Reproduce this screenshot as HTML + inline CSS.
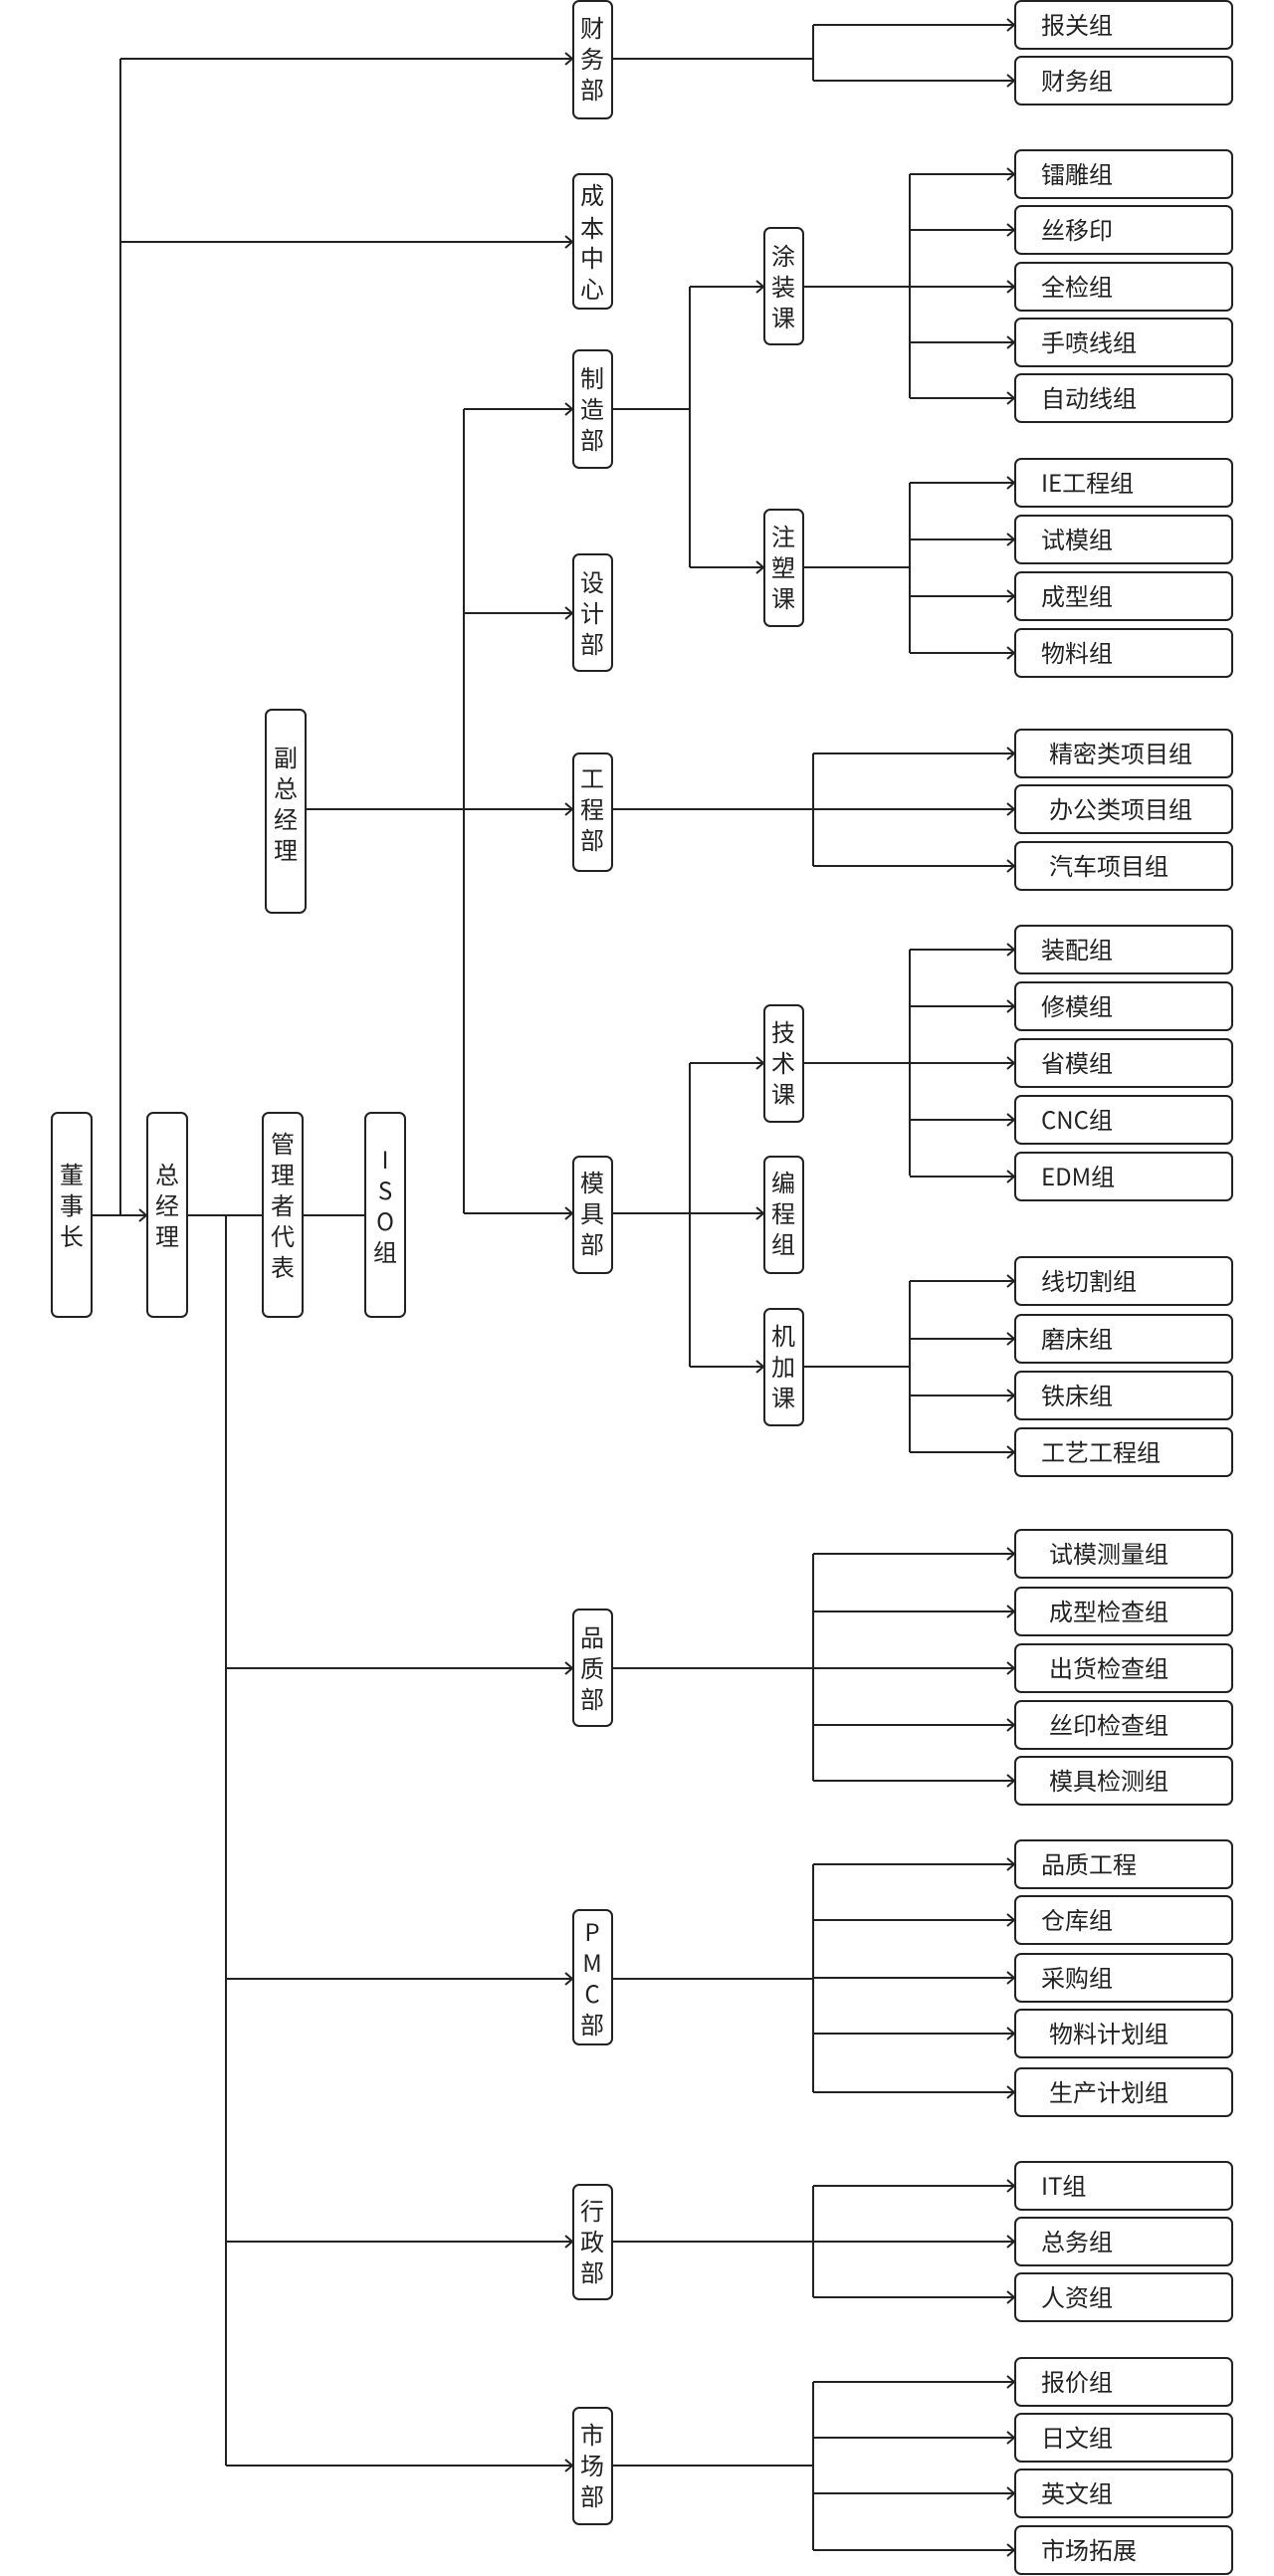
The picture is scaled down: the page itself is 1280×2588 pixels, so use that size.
<!DOCTYPE html>
<html><head><meta charset="utf-8"><style>
html,body{margin:0;padding:0;background:#fff;}
svg{display:block;}
text{font-family:"Noto Sans CJK SC","Liberation Sans",sans-serif;font-size:24px;fill:#222;}
</style></head><body>
<svg width="1280" height="2588" viewBox="0 0 1280 2588" xmlns="http://www.w3.org/2000/svg">
<defs><marker id="a" markerWidth="12" markerHeight="14" refX="10" refY="7" orient="auto" markerUnits="userSpaceOnUse"><path d="M3,1 L10,7 L3,13" fill="none" stroke="#222" stroke-width="2"/></marker></defs>
<g stroke="#222" stroke-width="2" fill="none">
<path d="M121,59 V1221"/>
<line x1="121" y1="59" x2="575" y2="59" marker-end="url(#a)"/>
<line x1="121" y1="243" x2="575" y2="243" marker-end="url(#a)"/>
<line x1="92" y1="1221" x2="147" y2="1221" marker-end="url(#a)"/>
<path d="M188,1221 H264 M304,1221 H367"/>
<path d="M227,1221 V2477"/>
<line x1="227" y1="1676" x2="575" y2="1676" marker-end="url(#a)"/>
<line x1="227" y1="1988" x2="575" y2="1988" marker-end="url(#a)"/>
<line x1="227" y1="2252" x2="575" y2="2252" marker-end="url(#a)"/>
<line x1="227" y1="2477" x2="575" y2="2477" marker-end="url(#a)"/>
<line x1="307" y1="813" x2="575" y2="813" marker-end="url(#a)"/>
<path d="M466,411 V1219"/>
<line x1="466" y1="411" x2="575" y2="411" marker-end="url(#a)"/>
<line x1="466" y1="616" x2="575" y2="616" marker-end="url(#a)"/>
<line x1="466" y1="1219" x2="575" y2="1219" marker-end="url(#a)"/>
<path d="M615,59 H817 M817,25 V81"/>
<line x1="817" y1="25" x2="1019" y2="25" marker-end="url(#a)"/>
<line x1="817" y1="81" x2="1019" y2="81" marker-end="url(#a)"/>
<path d="M615,411 H693 M693,288 V570"/>
<line x1="693" y1="288" x2="767" y2="288" marker-end="url(#a)"/>
<line x1="693" y1="570" x2="767" y2="570" marker-end="url(#a)"/>
<path d="M807,288 H914 M914,175 V400"/>
<line x1="914" y1="175" x2="1019" y2="175" marker-end="url(#a)"/>
<line x1="914" y1="231" x2="1019" y2="231" marker-end="url(#a)"/>
<line x1="914" y1="288" x2="1019" y2="288" marker-end="url(#a)"/>
<line x1="914" y1="344" x2="1019" y2="344" marker-end="url(#a)"/>
<line x1="914" y1="400" x2="1019" y2="400" marker-end="url(#a)"/>
<path d="M807,570 H914 M914,485 V656"/>
<line x1="914" y1="485" x2="1019" y2="485" marker-end="url(#a)"/>
<line x1="914" y1="542" x2="1019" y2="542" marker-end="url(#a)"/>
<line x1="914" y1="599" x2="1019" y2="599" marker-end="url(#a)"/>
<line x1="914" y1="656" x2="1019" y2="656" marker-end="url(#a)"/>
<path d="M615,813 H817 M817,757 V870"/>
<line x1="817" y1="757" x2="1019" y2="757" marker-end="url(#a)"/>
<line x1="817" y1="813" x2="1019" y2="813" marker-end="url(#a)"/>
<line x1="817" y1="870" x2="1019" y2="870" marker-end="url(#a)"/>
<path d="M615,1219 H693 M693,1068 V1373"/>
<line x1="693" y1="1068" x2="767" y2="1068" marker-end="url(#a)"/>
<line x1="693" y1="1219" x2="767" y2="1219" marker-end="url(#a)"/>
<line x1="693" y1="1373" x2="767" y2="1373" marker-end="url(#a)"/>
<path d="M807,1068 H914 M914,954 V1181"/>
<line x1="914" y1="954" x2="1019" y2="954" marker-end="url(#a)"/>
<line x1="914" y1="1011" x2="1019" y2="1011" marker-end="url(#a)"/>
<line x1="914" y1="1068" x2="1019" y2="1068" marker-end="url(#a)"/>
<line x1="914" y1="1125" x2="1019" y2="1125" marker-end="url(#a)"/>
<line x1="914" y1="1182" x2="1019" y2="1182" marker-end="url(#a)"/>
<path d="M807,1373 H914 M914,1287 V1459"/>
<line x1="914" y1="1287" x2="1019" y2="1287" marker-end="url(#a)"/>
<line x1="914" y1="1345" x2="1019" y2="1345" marker-end="url(#a)"/>
<line x1="914" y1="1402" x2="1019" y2="1402" marker-end="url(#a)"/>
<line x1="914" y1="1459" x2="1019" y2="1459" marker-end="url(#a)"/>
<path d="M615,1676 H817 M817,1561 V1789"/>
<line x1="817" y1="1561" x2="1019" y2="1561" marker-end="url(#a)"/>
<line x1="817" y1="1619" x2="1019" y2="1619" marker-end="url(#a)"/>
<line x1="817" y1="1676" x2="1019" y2="1676" marker-end="url(#a)"/>
<line x1="817" y1="1733" x2="1019" y2="1733" marker-end="url(#a)"/>
<line x1="817" y1="1789" x2="1019" y2="1789" marker-end="url(#a)"/>
<path d="M615,1988 H817 M817,1873 V2102"/>
<line x1="817" y1="1873" x2="1019" y2="1873" marker-end="url(#a)"/>
<line x1="817" y1="1929" x2="1019" y2="1929" marker-end="url(#a)"/>
<line x1="817" y1="1987" x2="1019" y2="1987" marker-end="url(#a)"/>
<line x1="817" y1="2043" x2="1019" y2="2043" marker-end="url(#a)"/>
<line x1="817" y1="2102" x2="1019" y2="2102" marker-end="url(#a)"/>
<path d="M615,2252 H817 M817,2196 V2308"/>
<line x1="817" y1="2196" x2="1019" y2="2196" marker-end="url(#a)"/>
<line x1="817" y1="2252" x2="1019" y2="2252" marker-end="url(#a)"/>
<line x1="817" y1="2308" x2="1019" y2="2308" marker-end="url(#a)"/>
<path d="M615,2477 H817 M817,2393 V2562"/>
<line x1="817" y1="2393" x2="1019" y2="2393" marker-end="url(#a)"/>
<line x1="817" y1="2449" x2="1019" y2="2449" marker-end="url(#a)"/>
<line x1="817" y1="2505" x2="1019" y2="2505" marker-end="url(#a)"/>
<line x1="817" y1="2562" x2="1019" y2="2562" marker-end="url(#a)"/>

<g fill="#fff">
<rect x="52" y="1118" width="40" height="205" rx="6"/>
<rect x="148" y="1118" width="40" height="205" rx="6"/>
<rect x="264" y="1118" width="40" height="205" rx="6"/>
<rect x="367" y="1118" width="40" height="205" rx="6"/>
<rect x="267" y="713" width="40" height="204" rx="6"/>
<rect x="576" y="1" width="39" height="118" rx="6"/>
<rect x="576" y="175" width="39" height="135" rx="6"/>
<rect x="576" y="352" width="39" height="118" rx="6"/>
<rect x="576" y="557" width="39" height="117" rx="6"/>
<rect x="576" y="757" width="39" height="118" rx="6"/>
<rect x="576" y="1162" width="39" height="117" rx="6"/>
<rect x="576" y="1617" width="39" height="117" rx="6"/>
<rect x="576" y="1919" width="39" height="135" rx="6"/>
<rect x="576" y="2195" width="39" height="115" rx="6"/>
<rect x="576" y="2419" width="39" height="117" rx="6"/>
<rect x="768" y="229" width="39" height="117" rx="6"/>
<rect x="768" y="512" width="39" height="117" rx="6"/>
<rect x="768" y="1010" width="39" height="117" rx="6"/>
<rect x="768" y="1162" width="39" height="117" rx="6"/>
<rect x="768" y="1315" width="39" height="117" rx="6"/>
</g>
<g fill="#fff">
<rect x="1020" y="1" width="218" height="48" rx="6"/>
<rect x="1020" y="57" width="218" height="48" rx="6"/>
<rect x="1020" y="151" width="218" height="48" rx="6"/>
<rect x="1020" y="207" width="218" height="48" rx="6"/>
<rect x="1020" y="264" width="218" height="48" rx="6"/>
<rect x="1020" y="320" width="218" height="48" rx="6"/>
<rect x="1020" y="376" width="218" height="48" rx="6"/>
<rect x="1020" y="461" width="218" height="48" rx="6"/>
<rect x="1020" y="518" width="218" height="48" rx="6"/>
<rect x="1020" y="575" width="218" height="48" rx="6"/>
<rect x="1020" y="632" width="218" height="48" rx="6"/>
<rect x="1020" y="733" width="218" height="48" rx="6"/>
<rect x="1020" y="789" width="218" height="48" rx="6"/>
<rect x="1020" y="846" width="218" height="48" rx="6"/>
<rect x="1020" y="930" width="218" height="48" rx="6"/>
<rect x="1020" y="987" width="218" height="48" rx="6"/>
<rect x="1020" y="1044" width="218" height="48" rx="6"/>
<rect x="1020" y="1101" width="218" height="48" rx="6"/>
<rect x="1020" y="1158" width="218" height="48" rx="6"/>
<rect x="1020" y="1263" width="218" height="48" rx="6"/>
<rect x="1020" y="1321" width="218" height="48" rx="6"/>
<rect x="1020" y="1378" width="218" height="48" rx="6"/>
<rect x="1020" y="1435" width="218" height="48" rx="6"/>
<rect x="1020" y="1537" width="218" height="48" rx="6"/>
<rect x="1020" y="1595" width="218" height="48" rx="6"/>
<rect x="1020" y="1652" width="218" height="48" rx="6"/>
<rect x="1020" y="1709" width="218" height="48" rx="6"/>
<rect x="1020" y="1765" width="218" height="48" rx="6"/>
<rect x="1020" y="1849" width="218" height="48" rx="6"/>
<rect x="1020" y="1905" width="218" height="48" rx="6"/>
<rect x="1020" y="1963" width="218" height="48" rx="6"/>
<rect x="1020" y="2019" width="218" height="48" rx="6"/>
<rect x="1020" y="2078" width="218" height="48" rx="6"/>
<rect x="1020" y="2172" width="218" height="48" rx="6"/>
<rect x="1020" y="2228" width="218" height="48" rx="6"/>
<rect x="1020" y="2284" width="218" height="48" rx="6"/>
<rect x="1020" y="2369" width="218" height="48" rx="6"/>
<rect x="1020" y="2425" width="218" height="48" rx="6"/>
<rect x="1020" y="2481" width="218" height="48" rx="6"/>
<rect x="1020" y="2538" width="218" height="48" rx="6"/>
</g>
</g>

<g text-anchor="middle">
<text x="72" y="1189">董</text><text x="72" y="1220">事</text><text x="72" y="1251">长</text>
<text x="168" y="1189">总</text><text x="168" y="1220">经</text><text x="168" y="1251">理</text>
<text x="284" y="1158">管</text><text x="284" y="1189">理</text><text x="284" y="1220">者</text><text x="284" y="1251">代</text><text x="284" y="1282">表</text>
<text x="387" y="1174">I</text><text x="387" y="1205">S</text><text x="387" y="1236">O</text><text x="387" y="1267">组</text>
<text x="287" y="770">副</text><text x="287" y="801">总</text><text x="287" y="832">经</text><text x="287" y="863">理</text>
<text x="595" y="37">财</text><text x="595" y="68">务</text><text x="595" y="99">部</text>
<text x="595" y="205">成</text><text x="595" y="238">本</text><text x="595" y="268">中</text><text x="595" y="299">心</text>
<text x="595" y="389">制</text><text x="595" y="420">造</text><text x="595" y="451">部</text>
<text x="595" y="594">设</text><text x="595" y="625">计</text><text x="595" y="656">部</text>
<text x="595" y="791">工</text><text x="595" y="822">程</text><text x="595" y="853">部</text>
<text x="595" y="1197">模</text><text x="595" y="1228">具</text><text x="595" y="1259">部</text>
<text x="595" y="1654">品</text><text x="595" y="1685">质</text><text x="595" y="1716">部</text>
<text x="595" y="1950">P</text><text x="595" y="1981">M</text><text x="595" y="2012">C</text><text x="595" y="2043">部</text>
<text x="595" y="2230">行</text><text x="595" y="2261">政</text><text x="595" y="2292">部</text>
<text x="595" y="2455">市</text><text x="595" y="2486">场</text><text x="595" y="2517">部</text>
<text x="787" y="266">涂</text><text x="787" y="297">装</text><text x="787" y="328">课</text>
<text x="787" y="548">注</text><text x="787" y="579">塑</text><text x="787" y="610">课</text>
<text x="787" y="1046">技</text><text x="787" y="1077">术</text><text x="787" y="1108">课</text>
<text x="787" y="1197">编</text><text x="787" y="1228">程</text><text x="787" y="1259">组</text>
<text x="787" y="1351">机</text><text x="787" y="1382">加</text><text x="787" y="1413">课</text>
</g>
<g>
<text x="1046" y="34">报关组</text>
<text x="1046" y="90">财务组</text>
<text x="1046" y="184">镭雕组</text>
<text x="1046" y="240">丝移印</text>
<text x="1046" y="297">全检组</text>
<text x="1046" y="353">手喷线组</text>
<text x="1046" y="409">自动线组</text>
<text x="1046" y="494">IE工程组</text>
<text x="1046" y="551">试模组</text>
<text x="1046" y="608">成型组</text>
<text x="1046" y="665">物料组</text>
<text x="1054" y="766">精密类项目组</text>
<text x="1054" y="822">办公类项目组</text>
<text x="1054" y="879">汽车项目组</text>
<text x="1046" y="963">装配组</text>
<text x="1046" y="1020">修模组</text>
<text x="1046" y="1077">省模组</text>
<text x="1046" y="1134">CNC组</text>
<text x="1046" y="1191">EDM组</text>
<text x="1046" y="1296">线切割组</text>
<text x="1046" y="1354">磨床组</text>
<text x="1046" y="1411">铁床组</text>
<text x="1046" y="1468">工艺工程组</text>
<text x="1054" y="1570">试模测量组</text>
<text x="1054" y="1628">成型检查组</text>
<text x="1054" y="1685">出货检查组</text>
<text x="1054" y="1742">丝印检查组</text>
<text x="1054" y="1798">模具检测组</text>
<text x="1046" y="1882">品质工程</text>
<text x="1046" y="1938">仓库组</text>
<text x="1046" y="1996">采购组</text>
<text x="1054" y="2052">物料计划组</text>
<text x="1054" y="2111">生产计划组</text>
<text x="1046" y="2205">IT组</text>
<text x="1046" y="2261">总务组</text>
<text x="1046" y="2317">人资组</text>
<text x="1046" y="2402">报价组</text>
<text x="1046" y="2458">日文组</text>
<text x="1046" y="2514">英文组</text>
<text x="1046" y="2571">市场拓展</text>
</g>
</svg>
</body></html>
